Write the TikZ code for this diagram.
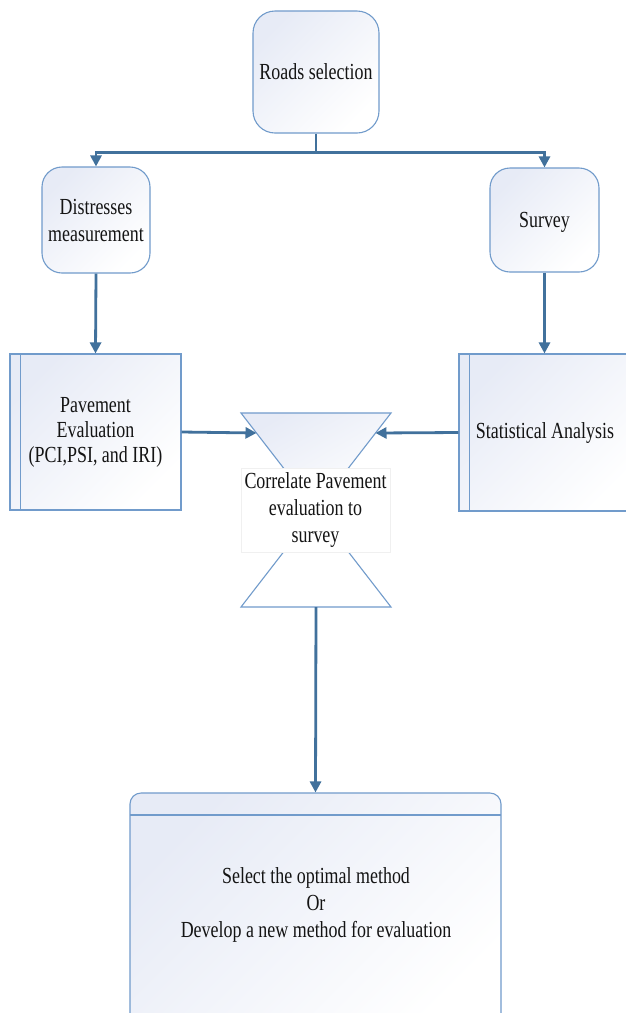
\documentclass[tikz,border=0pt]{standalone}
\usepackage{fontspec}
\setmainfont{Liberation Serif}[FakeStretch=0.78]
\usetikzlibrary{arrows.meta,calc}
\definecolor{bord}{RGB}{113,155,203}
\definecolor{arrc}{RGB}{65,113,156}
\definecolor{fillc}{RGB}{231,235,246}
\definecolor{txtc}{RGB}{20,20,20}
\tikzset{
  shadebox/.style={draw=bord, line width=1.1pt, top color=fillc, bottom color=white, shading angle=45},
  txt/.style={font=\fontsize{23}{27}\selectfont, text=txtc, align=center},
  conn/.style={draw=arrc, line width=2.8pt},
  arr/.style={conn, -{Triangle[length=11pt,width=11pt]}},
}
\begin{document}
\begin{tikzpicture}[x=1pt,y=-1pt]
\useasboundingbox (0,0) rectangle (626,1013);
\clip (0,0) rectangle (626,1013);
\fill[white] (0,0) rectangle (626,1013);

% boxes
\node[shadebox, rounded corners=22pt, minimum width=126pt, minimum height=122pt, txt] (roads) at (316,72) {Roads selection};
\node[shadebox, rounded corners=20pt, minimum width=108pt, minimum height=106pt, txt] (dist) at (96,220) {Distresses\\measurement};
\node[shadebox, rounded corners=20pt, minimum width=109pt, minimum height=104pt, txt, text depth=0pt] (survey) at (544.5,220) {Survey};

\node[shadebox, minimum width=171pt, minimum height=156pt, txt, font=\fontsize{23}{25}\selectfont] (pave) at (95.5,432) {Pavement\\Evaluation\\(PCI,PSI, and IRI)};
\draw[bord, line width=1.1pt] ($(pave.north west)+(11,0)$) -- ($(pave.south west)+(11,0)$);

\node[shadebox, minimum width=181pt, minimum height=157pt] (stat) at (549.5,432.5) {};
\draw[bord, line width=1.1pt] ($(stat.north west)+(11,0)$) -- ($(stat.south west)+(11,0)$);
\node[txt] (statt) at (545,433) {Statistical Analysis};

% collate shape
\coordinate (ctl) at (241,413);
\coordinate (ctr) at (391,413);
\coordinate (cbl) at (241,607);
\coordinate (cbr) at (391,607);
\coordinate (cmid) at (316,510);
\shade[top color=fillc, bottom color=white, shading angle=30] (ctl) -- (ctr) -- (cmid) -- cycle;
\draw[bord, line width=1.1pt] (ctl) -- (ctr) -- (cmid) -- cycle;
\fill[white] (cbl) -- (cbr) -- (cmid) -- cycle;
\draw[bord, line width=1.1pt] (cbl) -- (cbr) -- (cmid) -- cycle;
\coordinate (cin1) at (256.5,433);
\coordinate (cin2) at (375.5,433);
\coordinate (cout) at (316,607);
\node[draw=gray!12, line width=0.6pt, fill=white, minimum width=141pt, minimum height=84pt, txt] (corr) at (315.5,510) {Correlate Pavement\\evaluation to\\survey};

% bottom box
\node[shadebox, rounded corners=11pt, minimum width=371pt, minimum height=240pt] (final) at (315.5,913) {};
\draw[bord, line width=1.1pt] (130,815) -- (501,815);
\node[txt] (finalt) at (316,905) {Select the optimal method\\Or\\Develop a new method for evaluation};

% connectors
\draw[conn] (roads.south) -- ++(0,19) coordinate (bus);
\draw[arr] (bus) -| (dist.north);
\draw[arr] (bus) -| (survey.north);
\draw[arr] (dist.south) -- (pave.north);
\draw[arr] (survey.south) -- (stat.north -| survey.south);
\draw[arr] (pave.east) -- (cin1);
\draw[arr] (stat.west) -- (cin2);
\draw[arr] (cout) -- (final.north);
\end{tikzpicture}
\end{document}
